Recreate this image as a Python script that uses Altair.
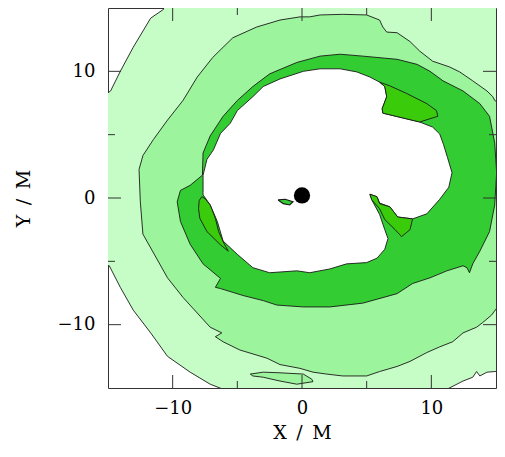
import altair as alt
import pandas as pd

# ---- contour polygons (data units: X/M, Y/M) ----
# outermost (lightest) level: region inside this line
light_x = [-10.9, -10.7, -11.7, -13.05, -14.05, -14.8, -16.0, -16.0, -14.9, -14.05, -13.05, -11.7,
           -10.4, -8.65, -7.1, -6.1, -5.6, 11.0, 11.2, 12.45, 13.2, 13.5, 13.75, 14.3, 14.9, 16.0, 16.0]
light_y = [16.0, 14.9, 14.2, 11.9, 10.0, 8.45, 7.6, -5.2, -5.35, -7.05, -8.85, -10.65,
           -12.5, -13.75, -14.7, -15.1, -16.0, -16.0, -15.1, -14.45, -14.15, -13.7, -14.05, -13.75, -13.7, -13.6, 16.0]

# second level
mid_x = [-0.15, 0.6, 1.4, 3.15, 5.0, 6.0, 6.25, 6.55, 7.35, 8.35, 9.1, 10.1, 11.4, 12.2, 13.2, 14.3,
         14.75, 14.9, 16.0, 16.0, 15.05, 14.65, 13.95, 13.5, 12.45, 11.65, 10.65, 9.65, 8.35, 7.35,
         6.0, 5.0, 3.15, 1.9, 0.85, -0.15, -1.7, -2.7, -4.8, -6.1, -6.7, -6.2, -7.1, -9.2, -10.4,
         -12.3, -12.5, -12.6, -12.3, -11.5, -10.4, -9.2, -8.1, -6.9, -5.35, -3.5, -1.7]
mid_y = [14.3, 14.3, 14.45, 14.5, 14.45, 14.05, 13.5, 13.1, 13.05, 12.35, 11.6, 10.8, 10.35, 9.95, 9.25, 8.45,
         8.0, 7.7, 7.0, -8.4, -8.7, -9.25, -9.85, -10.2, -10.65, -11.35, -11.75, -12.2, -12.9, -13.3,
         -13.7, -14.05, -14.05, -13.9, -13.75, -13.45, -13.15, -12.65, -12.0, -11.35, -10.95, -10.65, -10.2, -7.85, -6.3,
         -2.85, -0.3, 2.25, 3.35, 4.6, 6.15, 7.7, 9.55, 11.1, 12.65, 13.5, 14.05]

# small island of the second level near the bottom
isle_x = [-4.0, -3.0, -1.7, 0.1, 0.75, 0.85, -0.4, -1.7, -3.0, -3.8]
isle_y = [-13.9, -13.75, -13.8, -13.9, -14.3, -14.5, -14.7, -14.45, -14.15, -14.05]

# third level (dark ring, outer edge)
dark_x = [2.95, 4.7, 7.35, 8.9, 9.9, 10.9, 12.45, 13.75, 14.5, 14.9, 15.05, 14.9, 14.5, 13.75, 13.2,
          12.95, 12.75, 12.45, 11.2, 9.9, 8.55, 7.35, 4.7, 2.15, 0.1, -1.95, -3.0, -4.55, -6.3, -6.7,
          -6.3, -7.65, -8.65, -9.4, -9.65, -9.4, -8.65, -7.7, -7.65, -7.1, -6.1, -5.0, -3.8, -2.5, -0.4, 1.4]
dark_y = [11.35, 11.2, 10.95, 10.55, 10.0, 9.25, 8.45, 7.45, 6.45, 4.35, 2.0, -0.55, -2.65, -4.2, -5.2,
          -5.9, -5.5, -5.35, -5.75, -6.3, -6.75, -7.55, -8.3, -8.6, -8.6, -8.45, -8.1, -7.7, -7.15, -7.05,
          -6.35, -5.2, -3.65, -1.85, -0.3, 0.6, 1.0, 1.8, 3.55, 4.9, 6.45, 7.7, 8.8, 9.8, 10.7, 11.2]

# inner hole (below the lowest level)
hole_x = [-7.65, -7.65, -7.35, -6.85, -6.3, -5.55, -5.0, -3.8, -3.0, -1.7, 0.1, 1.4, 2.95, 4.25, 5.25,
          6.0, 6.4, 6.55, 6.2, 6.25, 9.1, 10.1, 10.65, 10.95, 11.25, 11.6, 11.35, 10.65, 9.65, 8.55,
          7.4, 6.8, 6.0, 5.8, 5.25, 5.4, 6.0, 6.4, 6.65, 6.4, 5.8, 5.0, 3.45, 2.15, 0.6, -0.4, -2.5,
          -3.8, -5.0, -6.1, -6.55, -7.1, -7.65]
hole_y = [0.45, 1.8, 3.05, 3.8, 5.1, 5.9, 6.9, 8.0, 8.8, 9.4, 10.0, 10.2, 10.2, 9.95, 9.55,
          9.15, 8.8, 8.0, 7.05, 6.7, 6.0, 5.6, 5.05, 4.2, 3.2, 2.0, 0.85, -0.1, -1.25, -1.65,
          -1.5, -0.7, -0.4, 0.1, 0.3, -0.15, -1.3, -2.5, -3.2, -4.05, -4.75, -5.1, -5.2, -5.6, -5.9, -5.75, -5.9,
          -5.5, -4.45, -3.4, -1.85, -0.55, 0.25]

# highest level patches
patch1_x = [6.0, 6.8, 8.1, 9.65, 10.4, 10.5, 9.1, 6.25, 6.2, 6.55, 6.4]
patch1_y = [9.15, 8.85, 8.25, 7.45, 6.9, 6.45, 6.0, 6.7, 7.05, 8.0, 8.8]
patch2_x = [5.25, 5.8, 6.0, 6.8, 7.4, 8.55, 8.35, 7.7, 7.2, 6.4, 6.0, 5.4]
patch2_y = [0.3, 0.1, -0.45, -0.7, -1.5, -1.65, -2.5, -3.05, -2.5, -1.7, -0.85, -0.15]
patch3_x = [-7.75, -7.5, -7.1, -6.7, -6.45, -6.05, -5.7, -6.3, -7.35, -7.9, -8.0, -7.95]
patch3_y = [0.1, -0.05, -0.55, -1.6, -2.65, -3.55, -4.2, -3.7, -2.65, -1.6, -0.85, -0.2]

# small sliver next to the central object
sliver_x = [-1.85, -1.3, -0.7, -0.95, -1.45]
sliver_y = [-0.15, -0.1, -0.3, -0.55, -0.45]

# central black hole
bh_x = [0.0]
bh_y = [0.2]

# axis ticks
tick_major = [-10, 0, 10]
tick_minor = [-5, 5]

W, H = 388, 380
FONT = "DejaVu Serif"

xscale = alt.Scale(domain=[-15, 15], nice=False, zero=False)
yscale = alt.Scale(domain=[-15, 15], nice=False, zero=False)
xaxis = alt.Axis(values=tick_major, ticks=False, domain=False, grid=False, labelPadding=11,
                 title="X\u2002/\u2002M", titlePadding=6, labelFlush=False)
yaxis = alt.Axis(values=tick_major, ticks=False, domain=False, grid=False, labelPadding=13,
                 title="Y\u2002/\u2002M", titlePadding=24, labelFlush=False)
X = alt.X("x:Q", scale=xscale, axis=xaxis)
Y = alt.Y("y:Q", scale=yscale, axis=yaxis)


def poly_df(xs, ys):
    xs = list(xs) + [xs[0]]
    ys = list(ys) + [ys[0]]
    return pd.DataFrame({"x": xs, "y": ys, "i": list(range(len(xs)))})


def poly(xs, ys, fill, sw=0.9):
    return alt.Chart(poly_df(xs, ys)).mark_line(
        fill=fill, stroke="#1a1a1a", strokeWidth=sw, clip=True
    ).encode(x=X, y=Y, order="i:Q")


layers = [
    poly(light_x, light_y, "#c6fcc6"),
    poly(mid_x, mid_y, "#9cf59c"),
    poly(isle_x, isle_y, "#9cf59c"),
    poly(dark_x, dark_y, "#33cc33"),
    poly(hole_x, hole_y, "#ffffff"),
    poly(patch1_x, patch1_y, "#3acc0a"),
    poly(patch2_x, patch2_y, "#3acc0a"),
    poly(patch3_x, patch3_y, "#3acc0a"),
    poly(sliver_x, sliver_y, "#33cc33", 1.2),
    alt.Chart(pd.DataFrame({"x": bh_x, "y": bh_y})).mark_point(
        filled=True, color="black", size=265, opacity=1
    ).encode(x=X, y=Y),
]

# inward ticks on all four sides
maj = pd.DataFrame({"x": tick_major, "y": tick_major})
mnr = pd.DataFrame({"x": tick_minor, "y": tick_minor})
for df, ln in ((maj, 13), (mnr, 7)):
    base = alt.Chart(df).mark_rule(color="#333", strokeWidth=1)
    layers += [
        base.encode(x=X, y=alt.value(H), y2=alt.value(H - ln)),
        base.encode(x=X, y=alt.value(0), y2=alt.value(ln)),
        base.encode(y=Y, x=alt.value(0), x2=alt.value(ln)),
        base.encode(y=Y, x=alt.value(W), x2=alt.value(W - ln)),
    ]

chart = alt.layer(*layers).properties(
    width=W, height=H, autosize="none",
    padding={"left": 100, "top": 0, "right": 1, "bottom": 56},
).configure_view(stroke="#333", strokeWidth=1).configure_axis(
    labelFont=FONT, titleFont=FONT, labelFontSize=18, titleFontSize=19,
    titleFontWeight="normal", labelColor="black", titleColor="black",
)

chart.save("out.html", embed_options={"renderer": "svg", "actions": False})
